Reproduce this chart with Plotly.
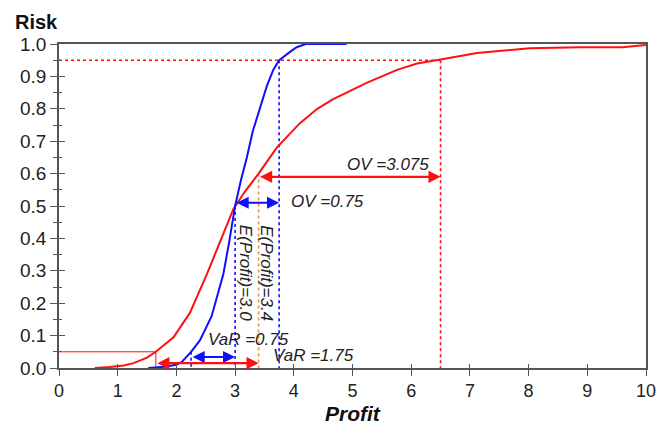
import plotly.graph_objects as go

# Cumulative risk profiles of two projects (profit vs. probability)
blue_profit = [1.52, 1.8, 2.0, 2.1, 2.25, 2.4, 2.6, 2.8, 2.9, 3.0, 3.1, 3.2, 3.3, 3.42,
               3.54, 3.65, 3.75, 3.93, 4.05, 4.2, 4.9]
blue_risk = [0.0, 0.004, 0.01, 0.02, 0.05, 0.085, 0.16, 0.29, 0.39, 0.5, 0.58, 0.65, 0.73,
             0.8, 0.87, 0.92, 0.95, 0.975, 0.99, 1.0, 1.0]

red_profit = [0.61, 0.87, 1.1, 1.27, 1.5, 1.65, 1.95, 2.23, 2.52, 2.75, 2.97, 3.15, 3.4,
              3.71, 4.1, 4.4, 4.67, 4.9, 5.24, 5.76, 6.1, 6.5, 7.12, 8.02, 8.88, 9.6, 10.0]
red_risk = [0.0, 0.003, 0.008, 0.015, 0.032, 0.05, 0.095, 0.17, 0.29, 0.39, 0.49, 0.54, 0.6,
            0.68, 0.755, 0.8, 0.83, 0.85, 0.88, 0.92, 0.94, 0.952, 0.972, 0.987, 0.99, 0.99, 0.997]

# Key statistics
e_blue, e_red = 3.0, 3.4          # expected profit
p95_blue, p95_red = 3.75, 6.5     # 95th percentile
p5_blue, p5_red = 2.25, 1.65      # 5th percentile
p_low, p_high = 0.05, 0.95

x_ticks = list(range(0, 11))
y_ticks = [round(i * 0.1, 1) for i in range(11)]
y_minor = [round(0.05 + i * 0.1, 2) for i in range(10)]

BLUE = "#1010ff"
RED = "#ff1010"
ORANGE = "#e8904a"
TXT = "#222222"
AXC = "#555555"
FONT = "Liberation Sans, Arial, sans-serif"

fig = go.Figure()
fig.add_trace(go.Scatter(x=red_profit, y=red_risk, mode="lines",
                         line=dict(color=RED, width=2), hoverinfo="skip"))
fig.add_trace(go.Scatter(x=blue_profit, y=blue_risk, mode="lines",
                         line=dict(color=BLUE, width=2), hoverinfo="skip"))
# invisible trace carrying the inner tick marks
fig.add_trace(go.Scatter(x=[0], y=[0], xaxis="x2", yaxis="y2", mode="markers",
                         marker=dict(opacity=0), hoverinfo="skip"))

shapes = []
def seg(x0, y0, x1, y1, color, dash="dot", width=1.6):
    shapes.append(dict(type="line", xref="x", yref="y", x0=x0, y0=y0, x1=x1, y1=y1,
                       line=dict(color=color, width=width, dash=dash), layer="below"))

# 95% level guide lines
seg(0, p_high, p95_red, p_high, RED)
seg(p95_red, p_high, p95_red, 0, RED)
seg(p95_blue, p_high, p95_blue, 0, BLUE)
# expected value guides
seg(e_blue, 0.5, e_blue, 0, BLUE)
seg(e_red, 0.6, e_red, 0, ORANGE)
# 5% level guides
seg(p5_blue, p_low, p5_blue, 0, BLUE)
seg(0, p_low, p5_red, p_low, RED, dash="solid", width=1)
seg(p5_red, p_low, p5_red, 0, RED, dash="solid", width=1)

annotations = []
def darrow(x0, x1, y, color):
    annotations.append(dict(x=x1, y=y, ax=x0, ay=y, xref="x", yref="y", axref="x", ayref="y",
                            text="", showarrow=True, arrowhead=2, arrowside="end+start",
                            arrowsize=1.1, arrowwidth=2.2, arrowcolor=color, standoff=0,
                            startstandoff=0))

def label(x, y, text, angle=0):
    annotations.append(dict(x=x, y=y, xref="x", yref="y", text=text, showarrow=False,
                            textangle=angle,
                            font=dict(family=FONT, size=17, color=TXT, style="italic")))

darrow(e_blue, p95_blue, 0.51, BLUE)
darrow(e_red, p95_red, 0.59, RED)
darrow(p5_blue, e_blue, 0.034, BLUE)
darrow(p5_red, e_red, 0.015, RED)

label(4.57, 0.515, "OV =0.75")
label(5.6, 0.627, "OV =3.075")
label(3.22, 0.088, "VaR =0.75")
label(4.33, 0.04, "VaR =1.75")
label(3.19, 0.293, "E(Profit)=3.0", angle=90)
label(3.54, 0.293, "E(Profit)=3.4", angle=90)

# axis titles
annotations.append(dict(x=0.0, y=1.0, xref="paper", yref="paper", xanchor="left",
                        yanchor="bottom", xshift=-46, yshift=9, text="<b>Risk</b>",
                        showarrow=False, font=dict(family=FONT, size=20, color="#111")))
annotations.append(dict(x=0.5, y=0.0, xref="paper", yref="paper", xanchor="center",
                        yanchor="top", yshift=-32, text="<b><i>Profit</i></b>",
                        showarrow=False, font=dict(family=FONT, size=21, color="#111")))

fig.update_layout(
    width=668, height=425,
    margin=dict(l=59, r=22, t=44, b=57),
    plot_bgcolor="white", paper_bgcolor="white",
    showlegend=False,
    shapes=shapes, annotations=annotations,
    font=dict(family=FONT, size=19, color="#222"),
    xaxis=dict(range=[0, 10], tickvals=x_ticks, ticktext=[str(v) for v in x_ticks],
               showgrid=False, zeroline=False, showline=True, linecolor=AXC,
               linewidth=1.5, mirror=True, ticks="outside", ticklen=6, tickcolor=AXC,
               tickwidth=1.3, tickfont=dict(size=18, color="#222")),
    yaxis=dict(range=[0, 1.0], tickvals=y_ticks, ticktext=[f"{v:.1f}" for v in y_ticks],
               showgrid=False, zeroline=False, showline=True, linecolor=AXC,
               linewidth=1.5, mirror=True, ticks="outside", ticklen=7, tickcolor=AXC,
               tickwidth=1.3, tickfont=dict(size=19, color="#222"),
               minor=dict(tickvals=y_minor, ticks="outside", ticklen=4, tickcolor=AXC)),
    xaxis2=dict(range=[0, 10], overlaying="x", anchor="y2", side="bottom",
                tickvals=x_ticks, showticklabels=False, showgrid=False, zeroline=False,
                showline=False, ticks="inside", ticklen=4, tickcolor=AXC, tickwidth=1.3),
    yaxis2=dict(range=[0, 1.0], overlaying="y", anchor="x2", side="left",
                tickvals=y_ticks, showticklabels=False, showgrid=False, zeroline=False,
                showline=False, ticks="inside", ticklen=6, tickcolor=AXC, tickwidth=1.3,
                minor=dict(tickvals=y_minor, ticks="inside", ticklen=3, tickcolor=AXC)),
)

fig.write_html("out.html")
